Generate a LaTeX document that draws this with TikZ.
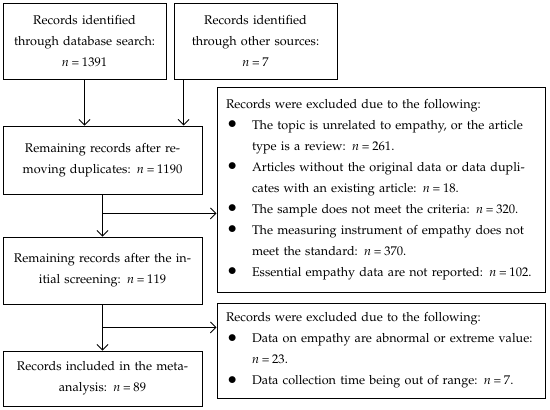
\documentclass[tikz,border=0pt]{standalone}
\usepackage[T1]{fontenc}
\usepackage{mathpazo}
\usepackage{enumitem}
\usepackage{tikz}
\usetikzlibrary{arrows.meta,positioning}

\newcommand{\exdot}{\raisebox{0.3pt}{\scalebox{1.35}{$\bullet$}}}
\newcommand{\nval}[1]{\textit{n}\hspace{0.22em}=\hspace{0.22em}#1}

\begin{document}
\begin{tikzpicture}[x=1pt,y=1pt,
	flow/.style={line width=0.9pt,-{Straight Barb[length=5.5pt,width=11pt,line width=0.9pt]}}]
	\useasboundingbox (0,0) rectangle (550,410);
	\begin{scope}[every node/.style={rectangle,draw,line width=0.9pt,inner sep=0pt,align=center,font=\fontsize{12.6}{21}\selectfont}]
		\node[minimum width=163pt,minimum height=76pt,text width=155pt] (db) at (84.5,369) {Records identified\\through database search:\\\nval{1391}};
		\node[minimum width=163pt,minimum height=76pt,text width=155pt] (other) at (255.5,369) {Records identified\\through other sources:\\\nval{7}};
		\node[minimum width=199pt,minimum height=68pt,text width=192pt] (dup) at (102.5,250) {Remaining records after re-\\moving duplicates: \nval{1190}};
		\node[minimum width=199pt,minimum height=67pt,text width=192pt] (screen) at (102.5,139.5) {Remaining records after the in-\\itial screening: \nval{119}};
		\node[minimum width=199pt,minimum height=55pt,text width=192pt] (incl) at (102.5,31.5) {Records included in the meta-\\analysis: \nval{89}};
		\node[minimum width=328pt,minimum height=205pt,text width=310pt,align=left] (excl1) at (381,220.5) {Records were excluded due to the following:
		\begin{itemize}[nosep,leftmargin=26pt,labelsep=15pt,label=\exdot]
			\item The topic is unrelated to empathy, or the article\\type is a review: \nval{261}.
			\item Articles without the original data or data dupli-\\cates with an existing article: \nval{18}.
			\item The sample does not meet the criteria: \nval{320}.
			\item The measuring instrument of empathy does not\\meet the standard: \nval{370}.
			\item Essential empathy data are not reported: \nval{102}.
		\end{itemize}
		};
		\node[minimum width=328pt,minimum height=95pt,text width=310pt,align=left] (excl2) at (381,59.5) {Records were excluded due to the following:
		\begin{itemize}[nosep,leftmargin=26pt,labelsep=15pt,label=\exdot]
			\item Data on empathy are abnormal or extreme value:\\\nval{23}.
			\item Data collection time being out of range: \nval{7}.
		\end{itemize}
		};
	\end{scope}

	\begin{scope}
	\coordinate (drop) at ([xshift=10pt]other.south west);
	\coordinate (split1) at ([yshift=-19pt]dup.south);
	\coordinate (split2) at ([yshift=-23pt]screen.south);
	\draw[flow] (db.south) -- (db.south|-dup.north);
	\draw[flow] (drop) -- (drop|-dup.north);
	\draw[flow] (dup.south) -- (screen.north);
	\draw[flow] (split1) -- (split1-|excl1.west);
	\draw[flow] (screen.south) -- (incl.north);
	\draw[flow] (split2) -- (split2-|excl2.west);
	\end{scope}
\end{tikzpicture}
\end{document}
